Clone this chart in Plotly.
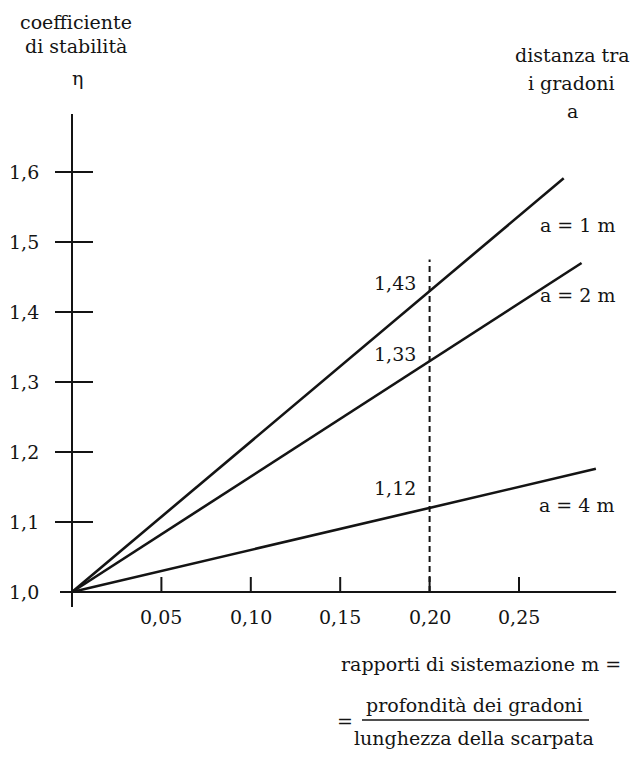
import plotly.graph_objects as go

# Stability coefficient eta versus the terrace ratio m, one line per spacing a
m_a1 = [0.0, 0.20, 0.275]
eta_a1 = [1.0, 1.43, 1.591]
m_a2 = [0.0, 0.20, 0.285]
eta_a2 = [1.0, 1.33, 1.470]
m_a4 = [0.0, 0.20, 0.293]
eta_a4 = [1.0, 1.12, 1.176]

series_names = ["a = 1 m", "a = 2 m", "a = 4 m"]

# reading guide at m = 0.20
m_ref = 0.20
eta_ref_top = 1.475
ref_values = [1.43, 1.33, 1.12]

x_ticks = [0.05, 0.10, 0.15, 0.20, 0.25]
x_tick_labels = ["0,05", "0,10", "0,15", "0,20", "0,25"]
y_ticks = [1.0, 1.1, 1.2, 1.3, 1.4, 1.5, 1.6]
y_tick_labels = ["1,0", "1,1", "1,2", "1,3", "1,4", "1,5", "1,6"]

W, H = 631, 762
X0_PX, Y0_PX = 72, 592          # pixel position of the origin
SX, SY = 1788.0, 700.0          # pixels per unit on each axis

x_range = [-X0_PX / SX, (W - X0_PX) / SX]
y_range = [1.0 - (H - Y0_PX) / SY, 1.0 + Y0_PX / SY]

INK = "#141414"
FONT = "DejaVu Serif"
FS = 19

fig = go.Figure()

line_sets = [(m_a1, eta_a1), (m_a2, eta_a2), (m_a4, eta_a4)]
for (mx, ey), name in zip(line_sets, series_names):
    fig.add_trace(go.Scatter(x=mx, y=ey, mode="lines", name=name,
                             line=dict(color=INK, width=2.6),
                             showlegend=False, hoverinfo="skip"))

# dashed guide
fig.add_trace(go.Scatter(x=[m_ref, m_ref], y=[1.0, eta_ref_top], mode="lines",
                         line=dict(color=INK, width=2, dash="6px,4px"),
                         showlegend=False, hoverinfo="skip"))

shapes = []
# axes (drawn slightly past the origin)
shapes.append(dict(type="line", xref="x", yref="y",
                   x0=-12 / SX, x1=0.3043, y0=1.0, y1=1.0,
                   line=dict(color=INK, width=2)))
shapes.append(dict(type="line", xref="x", yref="y",
                   x0=0.0, x1=0.0, y0=1.0 - 15 / SY, y1=1.683,
                   line=dict(color=INK, width=2)))
# y ticks cross the axis
for v in y_ticks[1:]:
    shapes.append(dict(type="line", xref="x", yref="y",
                       x0=-17 / SX, x1=21 / SX, y0=v, y1=v,
                       line=dict(color=INK, width=2)))
# x ticks point upward
for v in x_ticks:
    shapes.append(dict(type="line", xref="x", yref="y",
                       x0=v, x1=v, y0=1.0, y1=1.0 + 15 / SY,
                       line=dict(color=INK, width=2)))

annotations = []
txt = dict(family=FONT, size=FS, color=INK)
for v, lab in zip(y_ticks, y_tick_labels):
    annotations.append(dict(x=0.0, y=v, xref="x", yref="y", text=lab,
                            showarrow=False, xanchor="right", yanchor="middle",
                            xshift=-31, font=txt))
for v, lab in zip(x_ticks, x_tick_labels):
    annotations.append(dict(x=v, y=1.0, xref="x", yref="y", text=lab,
                            showarrow=False, xanchor="center", yanchor="middle",
                            yshift=-25, font=txt))

# values read at m = 0.20
for v, dy in zip(ref_values, [8, 7, 20]):
    annotations.append(dict(x=m_ref, y=v, xref="x", yref="y",
                            text=f"{v:.2f}".replace(".", ","),
                            showarrow=False, xanchor="right", yanchor="middle",
                            xshift=-12, yshift=dy, font=txt))


def paper(xp, yp):
    return xp / W, 1 - yp / H


def label(text, xp, yp, anchor="center"):
    x, y = paper(xp, yp)
    annotations.append(dict(x=x, y=y, xref="paper", yref="paper", text=text,
                            showarrow=False, xanchor=anchor, yanchor="middle",
                            font=txt))


# series labels
for name, (xp, yp) in zip(series_names, [(577, 225), (577, 295), (576, 505)]):
    label(name, xp, yp)

# axis titles
label("coefficiente", 76, 22)
label("di stabilità", 76, 46)
label("η", 77, 78)
label("distanza tra", 572, 55)
label("i gradoni", 571, 83)
label("a", 572, 111)

label("rapporti di sistemazione m =", 623, 664, anchor="right")
label("=", 345, 721)
label("profondità dei gradoni", 474, 705)
label("lunghezza della scarpata", 474, 738)
fx0, fy = paper(362, 720)
fx1, _ = paper(589, 720)
shapes.append(dict(type="line", xref="paper", yref="paper",
                   x0=fx0, x1=fx1, y0=fy, y1=fy,
                   line=dict(color=INK, width=1.5)))

fig.update_layout(
    width=W, height=H,
    margin=dict(l=0, r=0, t=0, b=0),
    paper_bgcolor="white", plot_bgcolor="white",
    xaxis=dict(range=x_range, visible=False, fixedrange=True),
    yaxis=dict(range=y_range, visible=False, fixedrange=True),
    shapes=shapes, annotations=annotations,
    showlegend=False,
)

fig.write_html("out.html")
